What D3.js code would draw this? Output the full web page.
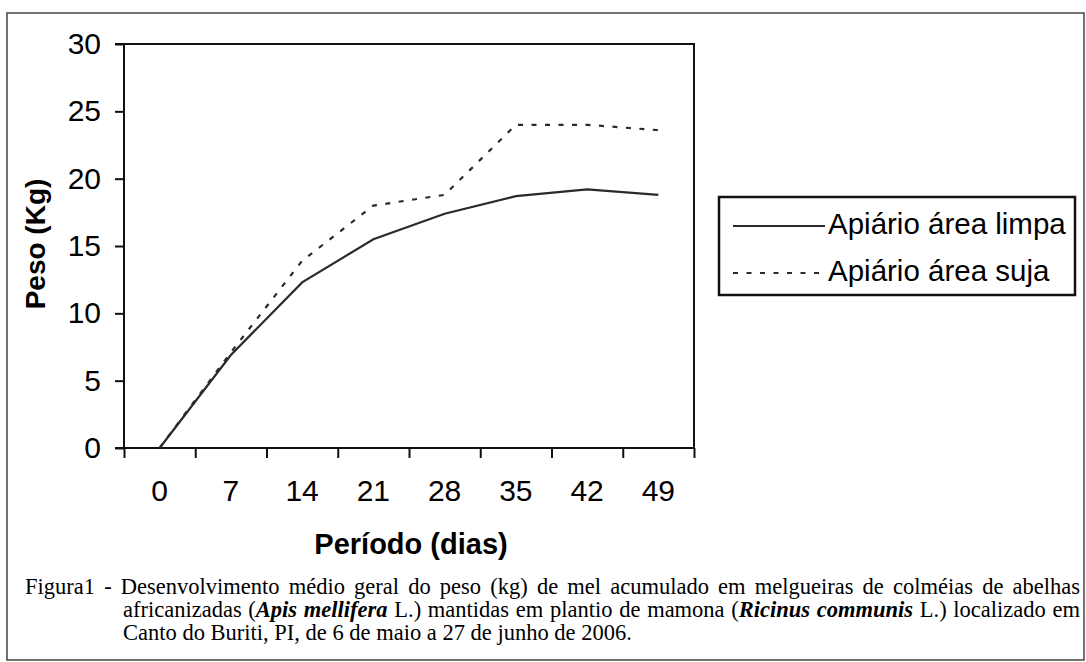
<!DOCTYPE html>
<html>
<head>
<meta charset="utf-8">
<script src="https://cdn.jsdelivr.net/npm/d3@7"></script>
<style>
  html, body { margin: 0; padding: 0; background: #fff; }
  svg { display: block; }
</style>
</head>
<body>
<svg id="chart" width="1086" height="662"></svg>
<script>
// ---- data ----
const days = [0, 7, 14, 21, 28, 35, 42, 49];
const limpa = [0, 6.9, 12.3, 15.5, 17.4, 18.7, 19.2, 18.8];
const suja = [0, 7.1, 13.9, 18.0, 18.8, 24.0, 24.0, 23.6];
const yTicks = [0, 5, 10, 15, 20, 25, 30];
const seriesNames = ["Apiário área limpa", "Apiário área suja"];
const yTitle = "Peso (Kg)";
const xTitle = "Período (dias)";
const captionLines = [
  [{t: "Figura1 - Desenvolvimento médio geral do peso (kg) de mel acumulado em melgueiras de colméias de abelhas", s: "n"}],
  [{t: "africanizadas (", s: "n"}, {t: "Apis mellifera", s: "bi"}, {t: " L.) mantidas em plantio de mamona (", s: "n"}, {t: "Ricinus communis", s: "bi"}, {t: " L.) localizado em", s: "n"}],
  [{t: "Canto do Buriti, PI, de 6 de maio a 27 de junho de 2006.", s: "n"}]
];

const svg = d3.select("#chart");
const sans = "'Liberation Sans', Arial, sans-serif";
const serif = "'Liberation Serif', 'Times New Roman', serif";

// outer frame
svg.append("rect").attr("x", 7).attr("y", 13).attr("width", 1077).attr("height", 647)
  .attr("fill", "none").attr("stroke", "#444").attr("stroke-width", 1.5);

const L = 124, R = 694, T = 44, B = 448;
const xBand = d3.scaleBand().domain(days).range([L, R]).padding(0);
const xBound = d3.scaleLinear().domain([0, days.length]).range([L, R]);
const y = d3.scaleLinear().domain([0, 30]).range([B, T]);
const xc = d => xBand(d) + xBand.bandwidth() / 2;

// y axis
const ya = svg.append("g").attr("transform", `translate(${L},0)`)
  .call(d3.axisLeft(y).tickValues(yTicks).tickSize(9).tickPadding(14).tickSizeOuter(0));
ya.select(".domain").remove();
ya.selectAll(".tick line").attr("stroke", "#111").attr("stroke-width", 2);
ya.selectAll(".tick text").attr("font-family", sans).attr("font-size", 30).attr("fill", "#000");

// x boundary ticks
const xt = svg.append("g").attr("transform", `translate(0,${B})`)
  .call(d3.axisBottom(xBound).ticks(days.length).tickSize(10).tickFormat("").tickSizeOuter(0));
xt.select(".domain").remove();
xt.selectAll(".tick line").attr("stroke", "#111").attr("stroke-width", 2);

// x labels
const xl = svg.append("g").attr("transform", `translate(0,${B})`)
  .call(d3.axisBottom(xBand).tickSize(0).tickPadding(32));
xl.select(".domain").remove();
xl.selectAll(".tick text").attr("font-family", sans).attr("font-size", 30).attr("fill", "#000");

// plot frame
svg.append("path")
  .attr("d", `M${L - 9},${T}H${R}V${B}H${L - 9}M${L},${T}V${B}`)
  .attr("fill", "none").attr("stroke", "#111").attr("stroke-width", 2);

// lines
const line = d3.line().x((d, i) => xc(days[i])).y(d => y(d));
svg.append("path").datum(limpa).attr("d", line)
  .attr("fill", "none").attr("stroke", "#2a2a2a").attr("stroke-width", 2.2);
svg.append("path").datum(suja).attr("d", line)
  .attr("fill", "none").attr("stroke", "#2a2a2a").attr("stroke-width", 2.2)
  .attr("stroke-dasharray", "5,8.5");

// axis titles
svg.append("text").attr("transform", "translate(35,244) rotate(-90)")
  .attr("text-anchor", "middle").attr("dominant-baseline", "central")
  .attr("font-family", sans).attr("font-weight", "bold").attr("font-size", 28).text(yTitle);
svg.append("text").attr("x", (L + R) / 2 + 2).attr("y", 554)
  .attr("text-anchor", "middle")
  .attr("font-family", sans).attr("font-weight", "bold").attr("font-size", 29).text(xTitle);

// legend
svg.append("rect").attr("x", 719).attr("y", 197).attr("width", 356).attr("height", 98)
  .attr("fill", "#fff").attr("stroke", "#111").attr("stroke-width", 2.5);
const legY = [226, 273];
seriesNames.forEach((n, i) => {
  svg.append("line").attr("x1", 733).attr("x2", 825).attr("y1", legY[i]).attr("y2", legY[i])
    .attr("stroke", "#2a2a2a").attr("stroke-width", 2.2)
    .attr("stroke-dasharray", i === 1 ? "5,8.5" : null);
  svg.append("text").attr("x", 828).attr("y", legY[i] + 8)
    .attr("font-family", sans).attr("font-size", 29.5).attr("fill", "#000").text(n);
});

// caption with justification
const capSize = 22.5;
const capStarts = [25, 123, 123];
const capEnd = 1080;
const capBase = [594, 617, 640];
const cap = svg.append("g");
captionLines.forEach((segs, li) => {
  const words = [[]];
  segs.forEach(sg => {
    const parts = sg.t.split(" ");
    parts.forEach((p, pi) => {
      if (pi > 0) words.push([]);
      if (p.length) words[words.length - 1].push({t: p, s: sg.s});
    });
  });
  const ws = words.filter(w => w.length);
  const els = ws.map(w => w.map(pc => {
    const el = cap.append("text").attr("y", capBase[li])
      .attr("font-family", serif).attr("font-size", capSize).attr("fill", "#000")
      .attr("font-weight", pc.s === "bi" ? "bold" : "normal")
      .attr("font-style", pc.s === "bi" ? "italic" : "normal")
      .text(pc.t);
    return {el, w: el.node().getComputedTextLength()};
  }));
  const widths = els.map(w => d3.sum(w, p => p.w));
  const total = d3.sum(widths);
  const justify = li < captionLines.length - 1;
  const spaceW = capSize * 0.25;
  const gap = justify ? Math.max(spaceW * 0.6, (capEnd - capStarts[li] - total) / (ws.length - 1)) : spaceW;
  let cx = capStarts[li];
  els.forEach((w) => {
    w.forEach(p => { p.el.attr("x", cx); cx += p.w; });
    cx += gap;
  });
});
</script>
</body>
</html>
